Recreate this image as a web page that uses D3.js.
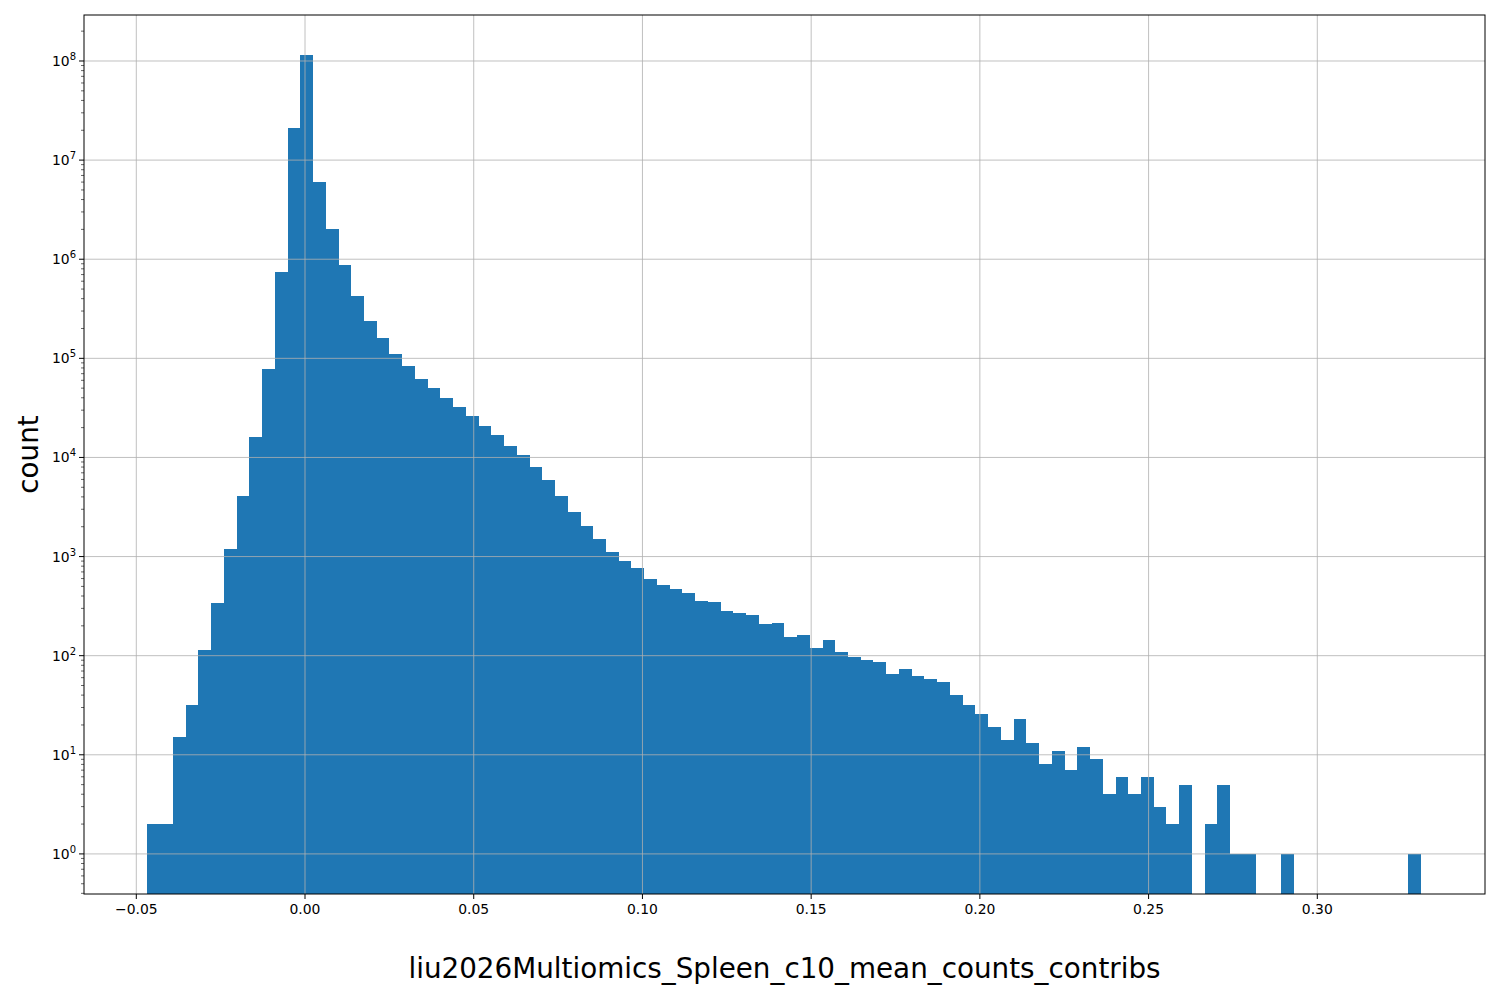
<!DOCTYPE html>
<html><head><meta charset="utf-8">
<script src="https://cdn.jsdelivr.net/npm/d3@7"></script>
<style>body{margin:0;background:#fff}</style></head>
<body><svg id="c" width="1500" height="1000"></svg>
<script>
const binStart = -0.0467, binEnd = 0.3308;
const counts = [2,2,15,32,115,340,1200,4100,16000,78000,
740000,2.1e7,1.15e8,6e6,2e6,870000,430000,240000,160000,110000,
83000,62000,50000,40000,32000,26000,21000,17000,13000,10500,
8000,5900,4100,2800,2050,1500,1100,900,760,590,
520,470,430,360,350,280,270,260,210,215,
155,160,120,145,108,98,90,87,66,74,
62,58,54,40,32,26,19,14,23,13,
8,11,7,12,9,4,6,4,6,3,
2,5,0,2,5,1,1,0,0,1,
0,0,0,0,0,0,0,0,0,1];
const xTicks = [-0.05,0,0.05,0.1,0.15,0.2,0.25,0.3];
const yTicks = [0,1,2,3,4,5,6,7,8];
const xLabel = "liu2026Multiomics_Spleen_c10_mean_counts_contribs";
const yLabel = "count";

const L=84,R=1485,T=15,B=894;
const svg=d3.select("#c").style("font-family","DejaVu Sans");
const x=d3.scaleLinear().domain([-0.0655,0.3497]).range([L,R]);
const y=d3.scaleLog().domain([0.394,10**8.464]).range([B,T]);
const bw=(binEnd-binStart)/counts.length;
const bins=counts.map((c,i)=>({x0:binStart+i*bw,x1:binStart+(i+1)*bw,c})).filter(d=>d.c>0);
svg.append("g").attr("shape-rendering","crispEdges").selectAll("rect").data(bins).join("rect")
 .attr("x",d=>Math.round(x(d.x0))).attr("width",d=>Math.round(x(d.x1))-Math.round(x(d.x0)))
 .attr("y",d=>y(d.c)).attr("height",d=>B-y(d.c)).attr("fill","#1f77b4");
const g=svg.append("g").attr("stroke","#b0b0b0").attr("stroke-width",0.8);
xTicks.forEach(t=>g.append("line").attr("x1",x(t)).attr("x2",x(t)).attr("y1",T).attr("y2",B));
yTicks.forEach(t=>g.append("line").attr("x1",L).attr("x2",R).attr("y1",y(10**t)).attr("y2",y(10**t)));
svg.append("rect").attr("x",L).attr("y",T).attr("width",R-L).attr("height",B-T).attr("fill","none").attr("stroke","#000").attr("stroke-width",1);
const fmt=t=>(t<0?"\u2212":"")+Math.abs(t).toFixed(2);
xTicks.forEach(t=>{
 svg.append("line").attr("x1",x(t)).attr("x2",x(t)).attr("y1",B).attr("y2",B+5).attr("stroke","#000");
 svg.append("text").attr("x",x(t)).attr("y",B+20).attr("text-anchor","middle").attr("font-size",13.9).text(fmt(t));
});
yTicks.forEach(t=>{
 const yy=y(10**t);
 svg.append("line").attr("x1",L-5).attr("x2",L).attr("y1",yy).attr("y2",yy).attr("stroke","#000");
 const tx=svg.append("text").attr("x",L-8).attr("y",yy+5).attr("text-anchor","end").attr("font-size",13.9);
 tx.append("tspan").text("10");
 tx.append("tspan").attr("dy",-6).attr("font-size",10).text(t);
});
for(let d=-1;d<=8;d++)for(let s=2;s<=9;s++){const v=s*10**d;if(v<0.394||v>10**8.464)continue;
 svg.append("line").attr("x1",L-3).attr("x2",L).attr("y1",y(v)).attr("y2",y(v)).attr("stroke","#000").attr("stroke-width",0.6);}
svg.append("text").attr("x",(L+R)/2).attr("y",978).attr("text-anchor","middle").attr("font-size",27.8).text(xLabel);
svg.append("text").attr("transform",`translate(38,${(T+B)/2}) rotate(-90)`).attr("text-anchor","middle").attr("font-size",27.8).text(yLabel);
</script></body></html>
